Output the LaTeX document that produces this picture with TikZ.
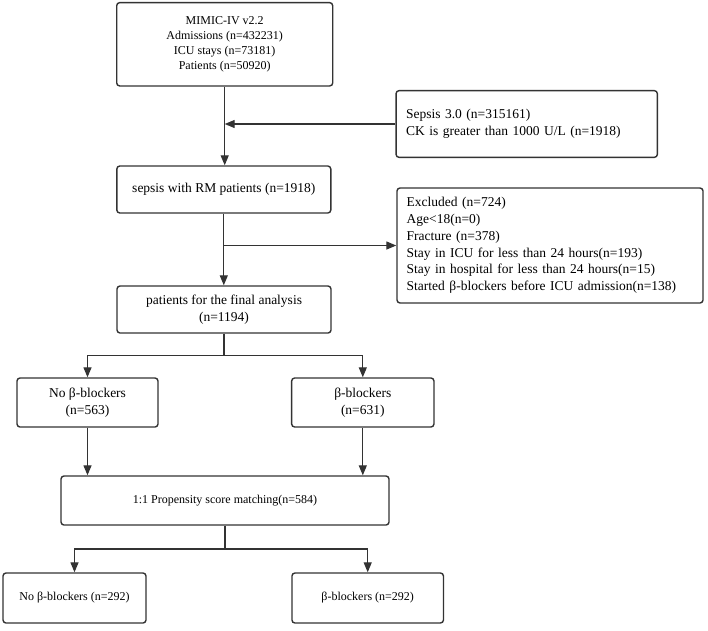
\documentclass[tikz,border=0pt]{standalone}
\usepackage{fontspec}
\setmainfont{Liberation Serif}
\usetikzlibrary{arrows.meta}
\definecolor{linec}{HTML}{333333}
\begin{document}
\begin{tikzpicture}[x=1pt,y=-1pt,
  box/.style={draw=linec, line width=1.4pt, rounded corners=3pt, inner sep=0pt, align=center, text=black},
  big/.style={font=\fontsize{13.5}{16.8}\selectfont},
  small/.style={font=\fontsize{12}{14.7}\selectfont},
  conn/.style={draw=linec, line width=1.3pt},
  arr/.style={conn, -{Triangle[length=10pt,width=8pt]}},
]
\useasboundingbox (0,0) rectangle (708,630);

\node[box,small,minimum width=216pt,minimum height=83.3pt] (mimic) at (224.7,44.3)
  {MIMIC-IV v2.2\\Admissions (n=432231)\\ICU stays (n=73181)\\Patients (n=50920)};
\node[box,big,minimum height=66.7pt,text width=241.3pt,inner xsep=10pt,align=left] (sep3) at (526.7,124)
  {Sepsis 3.0 (n=315161)\\CK is greater than 1000 U/L (n=1918)};
\node[box,big,minimum width=214pt,minimum height=47pt] (rm) at (223.8,189.5)
  {sepsis with RM patients (n=1918)};
\node[box,big,minimum height=115pt,text width=286.6pt,inner xsep=9.7pt,align=left] (excl) at (550,245.5)
  {Excluded (n=724)\\Age<18(n=0)\\Fracture (n=378)\\Stay in ICU for less than 24 hours(n=193)\\Stay in hospital for less than 24 hours(n=15)\\Started β-blockers before ICU admission(n=138)};
\node[box,big,minimum width=214pt,minimum height=47pt] (final) at (224,309.5)
  {patients for the final analysis\\(n=1194)};
\node[box,big,minimum width=141pt,minimum height=49pt] (nob) at (87.5,402.5)
  {No β-blockers\\(n=563)};
\node[box,big,minimum width=142.3pt,minimum height=49pt] (b) at (362.8,402.5)
  {β-blockers\\(n=631)};
\node[box,small,minimum width=328pt,minimum height=49pt] (psm) at (225,500.5)
  {1:1 Propensity score matching(n=584)};
\node[box,small,minimum width=143pt,minimum height=50pt] (nob2) at (74.5,598)
  {No β-blockers (n=292)};
\node[box,small,minimum width=151.5pt,minimum height=50pt] (b2) at (367.7,598)
  {β-blockers (n=292)};

\coordinate (j1) at (mimic.south |- sep3.west);
\draw[arr] (mimic.south) -- (mimic.south |- rm.north);
\draw[arr] (sep3.west) -- (j1);
\coordinate (j2) at (rm.south |- excl.west);
\draw[arr] (rm.south) -- (rm.south |- final.north);
\draw[arr] (j2) -- (excl.west);
\coordinate (s1) at (224,355.7);
\draw[conn] (final.south) -- (s1);
\draw[arr] (s1) -| (nob.north);
\draw[arr] (s1) -| (b.north);
\draw[arr] (nob.south) -- (nob.south |- psm.north);
\draw[arr] (b.south) -- (b.south |- psm.north);
\coordinate (s2) at (225,549);
\draw[conn] (psm.south) -- (s2);
\draw[arr] (s2) -| (nob2.north);
\draw[arr] (s2) -| (b2.north);
\end{tikzpicture}
\end{document}
